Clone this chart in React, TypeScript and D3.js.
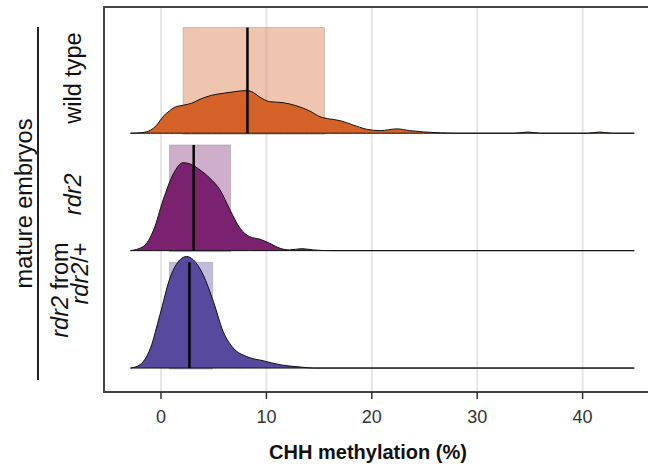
import React, { useRef, useEffect } from "react";
import * as d3 from "d3";

// ridge categories, top to bottom
const groups = ["wild type", "rdr2", "rdr2 from rdr2/+"];
const colors = ["#D46228", "#7A2270", "#574A9E"];

// density outlines: [CHH %, height in row units]
const wildTypeDensity = [
  [-2.9, 0], [-1.8, 0.005], [-1.0, 0.026], [-0.4, 0.07], [0.2, 0.142], [0.8, 0.19],
  [1.3, 0.221], [2.1, 0.238], [2.9, 0.255], [3.7, 0.289], [4.8, 0.323], [5.9, 0.34],
  [7.0, 0.354], [8.1, 0.363], [8.6, 0.354], [9.4, 0.306], [10.3, 0.269], [11.6, 0.26],
  [12.9, 0.232], [14.1, 0.19], [15.1, 0.14], [16.0, 0.122], [17.0, 0.107], [18.2, 0.071],
  [19.5, 0.034], [20.8, 0.022], [22.4, 0.037], [23.6, 0.022], [24.9, 0.011], [26.5, 0.003],
  [28, 0], [33.5, 0], [34.8, 0.01], [36, 0], [40.5, 0], [41.6, 0.01], [42.8, 0], [44.9, 0],
];
const rdr2Density = [
  [-2.9, 0], [-1.7, 0.034], [-0.7, 0.176], [0.2, 0.431], [1.2, 0.659], [2.1, 0.749],
  [2.75, 0.738], [3.7, 0.687], [4.65, 0.616], [5.6, 0.517], [6.55, 0.346], [7.5, 0.191],
  [8.4, 0.119], [9.4, 0.097], [10.3, 0.063], [11.3, 0.02], [12.2, 0.006], [13.35, 0.017],
  [14.45, 0.006], [16, 0], [44.9, 0],
];
const rdr2FromHetDensity = [
  [-2.9, 0], [-2.0, 0.028], [-1.0, 0.17], [-0.1, 0.454], [0.85, 0.766], [1.8, 0.922],
  [2.44, 0.95], [3.06, 0.922], [4.0, 0.794], [4.97, 0.567], [5.9, 0.311], [6.86, 0.17],
  [8.1, 0.099], [9.7, 0.062], [11.3, 0.028], [13.2, 0.009], [14.5, 0], [44.9, 0],
];
const densities = [wildTypeDensity, rdr2Density, rdr2FromHetDensity];

// interquartile boxes and medians
const q1 = [2.1, 0.8, 0.8];
const medians = [8.2, 3.1, 2.7];
const q3 = [15.5, 6.6, 4.9];

const xTicks = [0, 10, 20, 30, 40];

const FONT = "'Liberation Sans', Arial, sans-serif";
const W = 648;
const H = 472;
const PANEL = { left: 104, top: 7, right: 660, bottom: 392 };

export default function App() {
  const svgRef = useRef<SVGSVGElement>(null);

  useEffect(() => {
    const svg = d3.select(svgRef.current);
    svg.selectAll("*").remove();

    const x = d3.scaleLinear().domain([0, 40]).range([161, 582.6]);
    // row index: 0 = bottom ridge
    const y = d3.scaleLinear().domain([-0.204, 3.075]).range([PANEL.bottom, PANEL.top]);
    const spacing = y(0) - y(1);
    const h = d3.scaleLinear().domain([0, 1]).range([0, spacing]);
    const baseline = (i: number) => y(groups.length - 1 - i);

    // grid
    svg.append("g")
      .selectAll("line")
      .data(xTicks)
      .join("line")
      .attr("x1", d => x(d)).attr("x2", d => x(d))
      .attr("y1", PANEL.top).attr("y2", PANEL.bottom)
      .attr("stroke", "#e6e6e6").attr("stroke-width", 2);

    const area = d3.area<number[]>().curve(d3.curveMonotoneX);

    groups.forEach((g, i) => {
      const b = baseline(i);
      const layer = svg.append("g");
      layer.append("rect")
        .attr("x", x(q1[i])).attr("width", x(q3[i]) - x(q1[i]))
        .attr("y", b - h(0.9)).attr("height", h(0.9) + 1)
        .attr("fill", colors[i]).attr("fill-opacity", 0.37)
        .attr("stroke", "#999").attr("stroke-opacity", 0.5).attr("stroke-width", 1);
      area.x(d => x(d[0])).y0(b).y1(d => b - h(d[1]));
      layer.append("path")
        .attr("d", area(densities[i] as number[][]))
        .attr("fill", colors[i])
        .attr("stroke", "#111").attr("stroke-width", 1);
      layer.append("line")
        .attr("x1", x(medians[i])).attr("x2", x(medians[i]))
        .attr("y1", b - h(0.9)).attr("y2", b)
        .attr("stroke", "#000").attr("stroke-width", 2.5);
    });

    // panel border (left, top, bottom)
    svg.append("path")
      .attr("d", `M${PANEL.right},${PANEL.top}H${PANEL.left}V${PANEL.bottom}H${PANEL.right}`)
      .attr("fill", "none").attr("stroke", "#444").attr("stroke-width", 2);

    // x axis
    const ax = svg.append("g").attr("transform", `translate(0,${PANEL.bottom})`);
    ax.selectAll("line")
      .data(xTicks)
      .join("line")
      .attr("x1", d => x(d)).attr("x2", d => x(d))
      .attr("y1", 0).attr("y2", 7)
      .attr("stroke", "#333").attr("stroke-width", 1.5);
    ax.selectAll("text")
      .data(xTicks)
      .join("text")
      .attr("x", d => x(d)).attr("y", 31)
      .attr("text-anchor", "middle")
      .attr("font-family", FONT).attr("font-size", 18).attr("fill", "#333")
      .text(d => d);

    svg.append("text")
      .attr("x", 368).attr("y", 459)
      .attr("text-anchor", "middle")
      .attr("font-family", FONT).attr("font-size", 20).attr("font-weight", "bold")
      .attr("fill", "#111")
      .text("CHH methylation (%)");

    // y labels
    const lbl = (tx: number, ty: number, anchor: string) =>
      svg.append("text")
        .attr("transform", `translate(${tx},${ty}) rotate(-90)`)
        .attr("text-anchor", anchor)
        .attr("font-family", FONT).attr("font-size", 23.5).attr("fill", "#111");

    lbl(81, baseline(0) - 0.47 * spacing, "middle").text("wild type");
    lbl(81, baseline(1) - 0.48 * spacing, "middle")
      .attr("font-style", "italic").text("rdr2");
    const l1 = lbl(68, baseline(2) - 1.07 * spacing, "end");
    l1.append("tspan").attr("font-style", "italic").text("rdr2");
    l1.append("tspan").text(" from");
    const l2 = lbl(88, baseline(2) - 1.07 * spacing, "end");
    l2.append("tspan").attr("font-style", "italic").text("rdr2");
    l2.append("tspan").text("/+");

    svg.append("text")
      .attr("transform", `translate(32,${(PANEL.top + PANEL.bottom) / 2 + 4}) rotate(-90)`)
      .attr("text-anchor", "middle")
      .attr("font-family", FONT).attr("font-size", 23.5).attr("fill", "#111")
      .text("mature embryos");
    svg.append("line")
      .attr("x1", 38).attr("x2", 38)
      .attr("y1", 27).attr("y2", 380)
      .attr("stroke", "#222").attr("stroke-width", 2);
  }, []);

  return (
    <svg
      ref={svgRef}
      width={W}
      height={H}
      style={{ position: "absolute", left: 0, top: 0, background: "#fff" }}
    />
  );
}
